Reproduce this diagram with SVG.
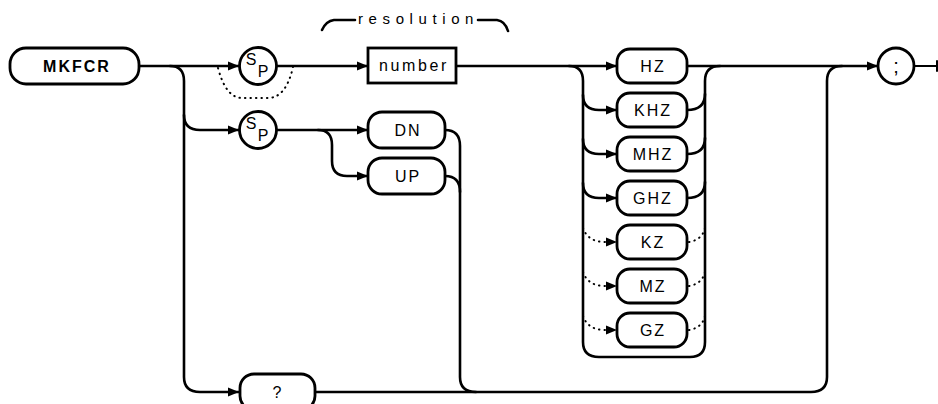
<svg xmlns="http://www.w3.org/2000/svg" width="938" height="404" viewBox="0 0 938 404">
<style>
.ln{fill:none;stroke:#000;stroke-width:2.6;stroke-linecap:round;stroke-linejoin:round}
.dt{fill:none;stroke:#000;stroke-width:2;stroke-linecap:round;stroke-dasharray:0.5 5}
.bx{fill:#fff;stroke:#000;stroke-width:2.8}
.t{font-family:"Liberation Sans",Arial,sans-serif;font-size:16px;fill:#000;text-anchor:middle;letter-spacing:2px}
.b{font-weight:bold}
.sp{font-size:16px;letter-spacing:0}
.ah{fill:#000}
</style>
<defs>
<marker id="arr" markerUnits="userSpaceOnUse" markerWidth="12" markerHeight="10" refX="11" refY="5" orient="auto">
<path d="M0,0.5 L11,5 L0,9.5 z" fill="#000"/>
</marker>
</defs>
<rect width="938" height="404" fill="#fff"/>
<g id="connectors">
<path class="ln" d="M139,66 L239,66" marker-end="url(#arr)"/>
<path class="ln" d="M170,66 Q184,66 184,81 L184,377 Q184,392 200,392 L239,392" marker-end="url(#arr)"/>
<path class="ln" d="M184,115 Q184,130 200,130 L239,130" marker-end="url(#arr)"/>
<path class="dt" d="M218,68 Q226,98 242,98 L268,98 Q286,98 293,67"/>
<path class="ln" d="M277,66 L368,66" marker-end="url(#arr)"/>
<path class="ln" d="M277,130 L368,130" marker-end="url(#arr)"/>
<path class="ln" d="M318,130 Q332,130 332,145 L332,161 Q332,176 347,176 L368,176" marker-end="url(#arr)"/>
<path class="ln" d="M445,130 Q460,130 460,146 L460,377 Q460,392 476,392"/>
<path class="ln" d="M445,176 Q460,176 460,192"/>
<path class="ln" d="M315,392 L811,392 Q827,392 827,377 L827,81 Q827,66 842,66"/>
<path class="ln" d="M456,66 L617,66" marker-end="url(#arr)"/>
<path class="ln" d="M569,66 Q583,66 583,81 L583,342 Q583,357 599,357 L690,357 Q705,357 705,342 L705,81 Q705,66 720,66"/>
<path class="ln" d="M583,95 Q583,110 599,110 L617,110" marker-end="url(#arr)"/>
<path class="ln" d="M583,139 Q583,154 599,154 L617,154" marker-end="url(#arr)"/>
<path class="ln" d="M583,183 Q583,198 599,198 L617,198" marker-end="url(#arr)"/>
<path class="dt" d="M583,228 Q588,242 605,242"/>
<path class="dt" d="M583,272 Q588,286 605,286"/>
<path class="dt" d="M583,316 Q588,330 605,330"/>
<polygon class="ah" points="606,237.5 617,242 606,246.5"/>
<polygon class="ah" points="606,281.5 617,286 606,290.5"/>
<polygon class="ah" points="606,325.5 617,330 606,334.5"/>
<path class="ln" d="M687,110 Q705,110 705,94"/>
<path class="ln" d="M687,154 Q705,154 705,138"/>
<path class="ln" d="M687,198 Q705,198 705,182"/>
<path class="dt" d="M689,242 Q702,240 705,228"/>
<path class="dt" d="M689,286 Q702,284 705,272"/>
<path class="dt" d="M689,330 Q702,328 705,316"/>
<path class="ln" d="M687,66 L878,66" marker-end="url(#arr)"/>
<path class="ln" d="M914,66 L937,66 M937,61 L937,71" style="stroke-width:2"/>
<path class="ln" d="M322,30 Q326,21 334,20 L355,20"/>
<path class="ln" d="M478,20 L497,20 Q505,21 508,31"/>
</g>
<g id="n-mkfcr"><rect class="bx" x="10" y="48" width="129" height="36" rx="16"/><text class="t b" x="77" y="72">MKFCR</text></g>
<g id="n-sp1"><circle class="bx" cx="258" cy="66" r="18.5"/><text class="t sp" x="251" y="65">S</text><text class="t sp" x="263" y="77">P</text></g>
<g id="n-sp2"><circle class="bx" cx="258" cy="130" r="18.5"/><text class="t sp" x="251" y="129">S</text><text class="t sp" x="263" y="141">P</text></g>
<g id="n-resolution"><text class="t" x="358" y="24" style="font-size:15px;letter-spacing:5.6px;text-anchor:start">resolution</text></g>
<g id="n-number"><rect class="bx" x="368" y="48" width="88" height="35"/><text class="t" x="414" y="71" style="letter-spacing:2.6px">number</text></g>
<g id="n-dn"><rect class="bx" x="368" y="112" width="77" height="36" rx="14"/><text class="t" x="408" y="136">DN</text></g>
<g id="n-up"><rect class="bx" x="368" y="158" width="77" height="36" rx="14"/><text class="t" x="408" y="182">UP</text></g>
<g id="n-q"><rect class="bx" x="240" y="374" width="75" height="36" rx="14"/><text class="t" x="278" y="398">?</text></g>
<g id="n-hz"><rect class="bx" x="617" y="49" width="70" height="34" rx="13"/><text class="t" x="653" y="72">HZ</text></g>
<g id="n-khz"><rect class="bx" x="617" y="93" width="70" height="34" rx="13"/><text class="t" x="653" y="116">KHZ</text></g>
<g id="n-mhz"><rect class="bx" x="617" y="137" width="70" height="34" rx="13"/><text class="t" x="653" y="160">MHZ</text></g>
<g id="n-ghz"><rect class="bx" x="617" y="181" width="70" height="34" rx="13"/><text class="t" x="653" y="204">GHZ</text></g>
<g id="n-kz"><rect class="bx" x="617" y="225" width="70" height="34" rx="13"/><text class="t" x="653" y="248">KZ</text></g>
<g id="n-mz"><rect class="bx" x="617" y="269" width="70" height="34" rx="13"/><text class="t" x="653" y="292">MZ</text></g>
<g id="n-gz"><rect class="bx" x="617" y="313" width="70" height="34" rx="13"/><text class="t" x="653" y="336">GZ</text></g>
<g id="n-semi"><circle class="bx" cx="896" cy="66" r="18"/><text class="t" x="896" y="73" style="font-size:20px;letter-spacing:0">;</text></g>
</svg>
